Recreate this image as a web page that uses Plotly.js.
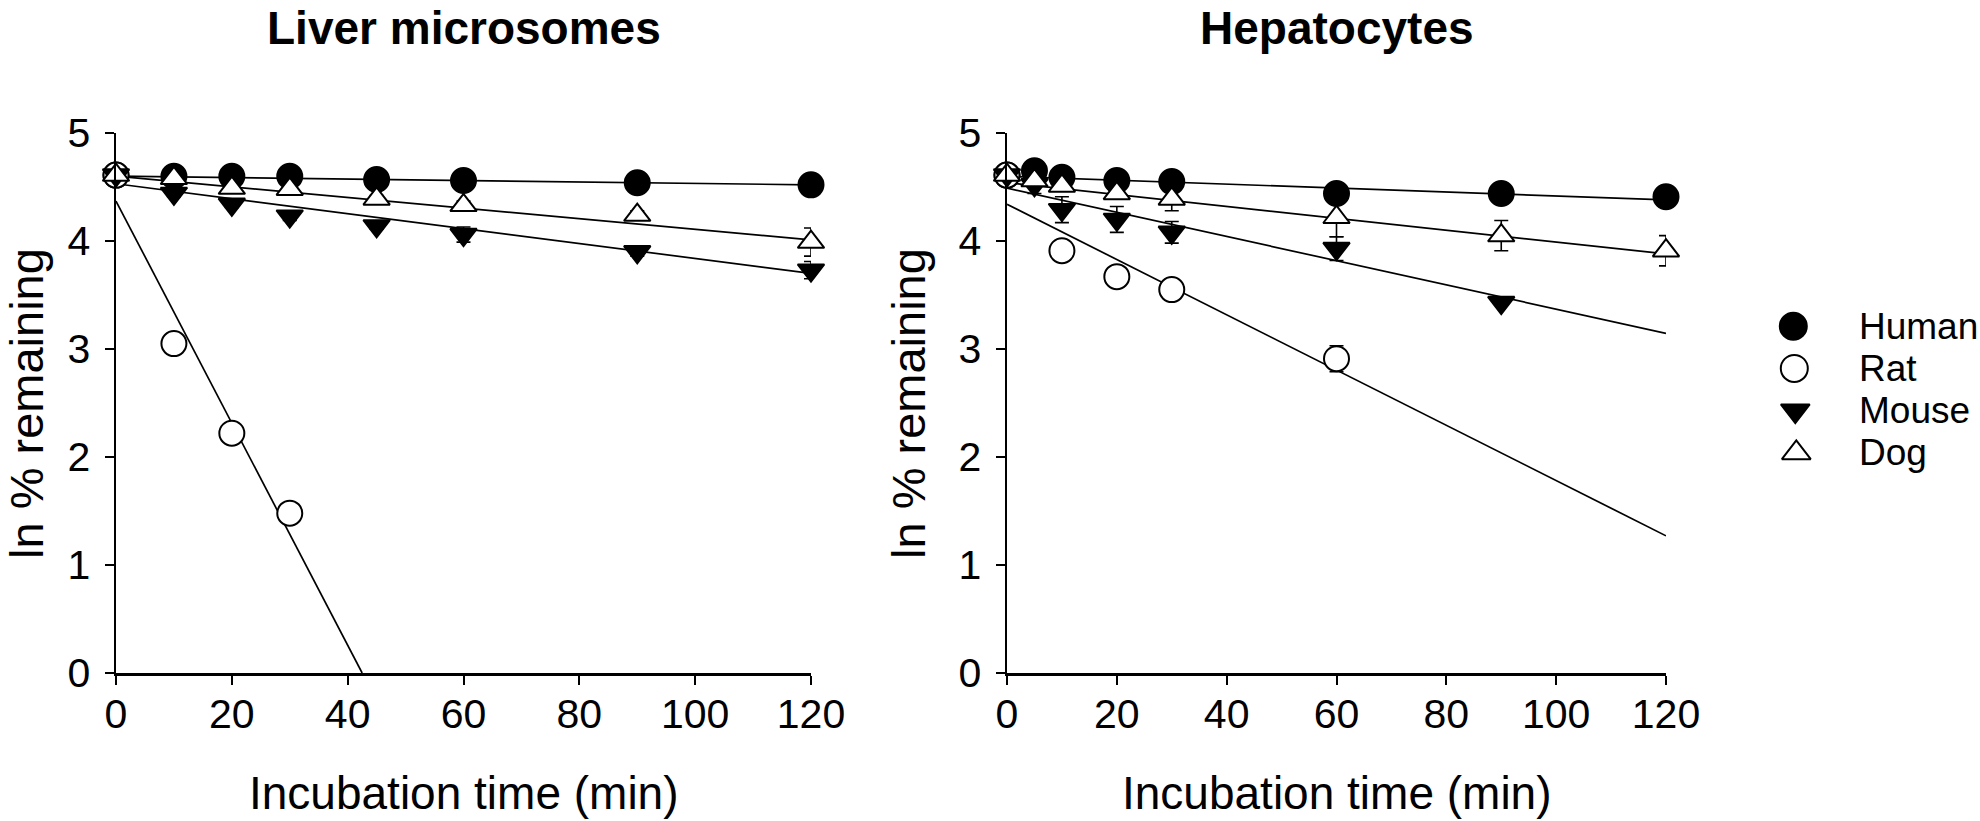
<!DOCTYPE html>
<html>
<head>
<meta charset="utf-8">
<script src="https://cdn.plot.ly/plotly-3.0.1.min.js"></script>
<style>
  html, body { margin: 0; padding: 0; background: #ffffff; }
  #chart { width: 1980px; height: 821px; }
</style>
</head>
<body>
<div id="chart"></div>
<script>
// ---- Liver microsomes: ln % remaining vs incubation time ----
const lmTime      = [0, 10, 20, 30, 45, 60, 90, 120];
const lmHuman     = [4.61, 4.60, 4.60, 4.60, 4.57, 4.56, 4.54, 4.52];
const lmHumanErr  = [0.02, 0.02, 0.02, 0.02, 0.02, 0.02, 0.02, 0.02];
const lmMouse     = [4.61, 4.44, 4.34, 4.23, 4.14, 4.06, 3.90, 3.73];
const lmMouseErr  = [0.02, 0.03, 0.03, 0.04, 0.03, 0.07, 0.04, 0.08];
const lmDog       = [4.61, 4.58, 4.49, 4.48, 4.39, 4.33, 4.24, 3.99];
const lmDogErr    = [0.02, 0.03, 0.03, 0.04, 0.03, 0.04, 0.04, 0.13];
const lmRatTime   = [0, 10, 20, 30];
const lmRat       = [4.61, 3.05, 2.22, 1.48];
const lmRatErr    = [0.02, 0.05, 0.04, 0.05];

// Linear fits (end points)
const lmFitTime    = [0, 120];
const lmFitHuman   = [4.60, 4.52];
const lmFitMouse   = [4.53, 3.70];
const lmFitDog     = [4.60, 4.01];
const lmFitRatTime = [0, 42.5];
const lmFitRat     = [4.37, 0];

// ---- Hepatocytes ----
const hepTime      = [0, 5, 10, 20, 30, 60, 90, 120];
const hepHuman     = [4.61, 4.65, 4.59, 4.56, 4.55, 4.44, 4.44, 4.41];
const hepHumanErr  = [0.02, 0.02, 0.03, 0.03, 0.03, 0.04, 0.03, 0.02];
const hepDog       = [4.61, 4.56, 4.51, 4.44, 4.39, 4.22, 4.05, 3.91];
const hepDogErr    = [0.02, 0.03, 0.04, 0.05, 0.11, 0.18, 0.14, 0.14];
const hepMouseTime = [0, 5, 10, 20, 30, 60, 90];
const hepMouse     = [4.61, 4.52, 4.29, 4.20, 4.08, 3.93, 3.43];
const hepMouseErr  = [0.02, 0.08, 0.12, 0.12, 0.10, 0.11, 0.02];
const hepRatTime   = [0, 10, 20, 30, 60];
const hepRat       = [4.61, 3.91, 3.67, 3.55, 2.91];
const hepRatErr    = [0.02, 0.03, 0.03, 0.04, 0.12];

const hepFitTime  = [0, 120];
const hepFitHuman = [4.60, 4.38];
const hepFitRat   = [4.34, 1.27];
const hepFitMouse = [4.49, 3.145];
const hepFitDog   = [4.54, 3.88];

// Axis ticks and labels
const timeTicks   = [0, 20, 40, 60, 80, 100, 120];
const lnTicks     = [0, 1, 2, 3, 4, 5];
const species     = ['Human', 'Rat', 'Mouse', 'Dog'];
const panelTitles = ['Liver microsomes', 'Hepatocytes'];
const xTitle      = 'Incubation time (min)';
const yTitle      = 'ln % remaining';

// ---- styling ----
const FONT = 'Liberation Sans, Arial, Helvetica, sans-serif';
const speciesStyle = {
  Human: { symbol: 'circle',        color: '#000000', size: 25 },
  Rat:   { symbol: 'circle',        color: '#ffffff', size: 25 },
  Mouse: { symbol: 'triangle-down', color: '#000000', size: 23 },
  Dog:   { symbol: 'triangle-up',   color: '#ffffff', size: 23 }
};

function fitLine(x, y, xa, ya) {
  return {
    type: 'scatter', mode: 'lines', x: x, y: y, xaxis: xa, yaxis: ya,
    line: { color: '#000000', width: 1.7 }, hoverinfo: 'skip', showlegend: false,
    cliponaxis: false
  };
}

function points(x, y, err, name, xa, ya) {
  const s = speciesStyle[name];
  return {
    type: 'scatter', mode: 'markers', name: name, x: x, y: y, xaxis: xa, yaxis: ya,
    marker: { symbol: s.symbol, color: s.color, size: s.size, opacity: 1,
              line: { color: '#000000', width: 2 } },
    error_y: { type: 'data', array: err, visible: true, color: '#000000',
               thickness: 1.6, width: 7 },
    cliponaxis: false, showlegend: false
  };
}

const traces = [
  fitLine(lmFitTime, lmFitHuman, 'x', 'y'),
  fitLine(lmFitTime, lmFitMouse, 'x', 'y'),
  fitLine(lmFitTime, lmFitDog, 'x', 'y'),
  fitLine(lmFitRatTime, lmFitRat, 'x', 'y'),
  fitLine(hepFitTime, hepFitHuman, 'x2', 'y2'),
  fitLine(hepFitTime, hepFitRat, 'x2', 'y2'),
  fitLine(hepFitTime, hepFitMouse, 'x2', 'y2'),
  fitLine(hepFitTime, hepFitDog, 'x2', 'y2'),

  points(lmTime, lmHuman, lmHumanErr, 'Human', 'x', 'y'),
  points(lmRatTime, lmRat, lmRatErr, 'Rat', 'x', 'y'),
  points(lmTime, lmMouse, lmMouseErr, 'Mouse', 'x', 'y'),
  points(lmTime, lmDog, lmDogErr, 'Dog', 'x', 'y'),

  points(hepTime, hepHuman, hepHumanErr, 'Human', 'x2', 'y2'),
  points(hepRatTime, hepRat, hepRatErr, 'Rat', 'x2', 'y2'),
  points(hepMouseTime, hepMouse, hepMouseErr, 'Mouse', 'x2', 'y2'),
  points(hepTime, hepDog, hepDogErr, 'Dog', 'x2', 'y2'),

  // legend key symbols, one row per species
  {
    type: 'scatter', mode: 'markers', y: species, x0: 0, dx: 0,
    xaxis: 'x3', yaxis: 'y3', showlegend: false, hoverinfo: 'skip',
    marker: {
      symbol: species.map(s => speciesStyle[s].symbol),
      color: species.map(s => speciesStyle[s].color),
      size: species.map(s => speciesStyle[s].size + 2),
      opacity: 1,
      line: { color: '#000000', width: 2 }
    },
    cliponaxis: false
  }
];

const W = 1980, H = 821;
const px = v => v / W;          // horizontal pixel -> paper
const py = v => 1 - v / H;      // vertical pixel -> paper

function timeAxis(d0, d1, anchor) {
  return {
    domain: [px(d0), px(d1)], anchor: anchor, range: [0, 120],
    tickmode: 'array', tickvals: timeTicks, ticktext: timeTicks.map(String),
    ticks: 'outside', ticklen: 9, tickwidth: 2, tickcolor: '#000000',
    showline: true, linewidth: 2.5, linecolor: '#000000',
    showgrid: false, zeroline: false, ticklabelstandoff: -6,
    tickfont: { family: FONT, size: 41, color: '#000000' }, fixedrange: true
  };
}
function lnAxis(anchor) {
  return {
    domain: [py(673), py(133)], anchor: anchor, range: [0, 5],
    tickmode: 'array', tickvals: lnTicks, ticktext: lnTicks.map(String),
    ticks: 'outside', ticklen: 9, tickwidth: 2, tickcolor: '#000000',
    showline: true, linewidth: 2.5, linecolor: '#000000',
    showgrid: false, zeroline: false, ticklabelstandoff: 6,
    tickfont: { family: FONT, size: 41, color: '#000000' }, fixedrange: true
  };
}

const leftX0 = 116, leftX1 = 811, rightX0 = 1007, rightX1 = 1666;

const annotations = [
  { text: '<b>' + panelTitles[0] + '</b>', x: px((leftX0 + leftX1) / 2), y: py(28),
    font: { family: FONT, size: 46, color: '#000000' } },
  { text: '<b>' + panelTitles[1] + '</b>', x: px((rightX0 + rightX1) / 2), y: py(28),
    font: { family: FONT, size: 46, color: '#000000' } },
  { text: xTitle, x: px((leftX0 + leftX1) / 2), y: py(793),
    font: { family: FONT, size: 46, color: '#000000' } },
  { text: xTitle, x: px((rightX0 + rightX1) / 2), y: py(793),
    font: { family: FONT, size: 46, color: '#000000' } },
  { text: yTitle, x: px(26), y: py(404), textangle: -90,
    font: { family: FONT, size: 47, color: '#000000' } },
  { text: yTitle, x: px(908), y: py(404), textangle: -90,
    font: { family: FONT, size: 47, color: '#000000' } }
].map(a => Object.assign({ xref: 'paper', yref: 'paper', showarrow: false,
                           xanchor: 'center', yanchor: 'middle' }, a));

species.forEach(s => annotations.push({
  text: s, xref: 'x3', yref: 'y3', x: 64, y: s, showarrow: false,
  xanchor: 'left', yanchor: 'middle',
  font: { family: FONT, size: 37, color: '#000000' }
}));

const layout = {
  width: W, height: H,
  margin: { l: 0, r: 0, t: 0, b: 0, pad: 0 },
  paper_bgcolor: '#ffffff', plot_bgcolor: 'rgba(0,0,0,0)',
  showlegend: false, hovermode: false,
  font: { family: FONT, color: '#000000' },
  xaxis: timeAxis(leftX0, leftX1, 'y'),
  yaxis: lnAxis('x'),
  xaxis2: timeAxis(rightX0, rightX1, 'y2'),
  yaxis2: lnAxis('x2'),
  xaxis3: { domain: [px(1760), 1], range: [-33.3, 186.7], visible: false, fixedrange: true },
  yaxis3: { domain: [py(474), py(305)], type: 'category', categoryarray: species,
            range: [3.5, -0.5], visible: false, fixedrange: true, anchor: 'x3' },
  annotations: annotations
};

Plotly.newPlot('chart', traces, layout, { staticPlot: true, displayModeBar: false });
</script>
</body>
</html>
